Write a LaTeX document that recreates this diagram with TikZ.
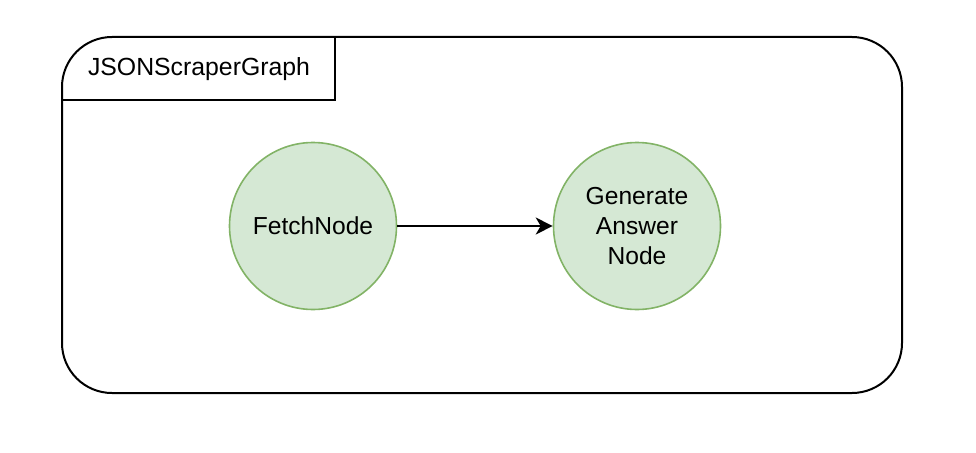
\documentclass[tikz,border=0pt]{standalone}
\usepackage{fontspec}
\setmainfont{Liberation Sans}
\usetikzlibrary{arrows.meta}
\begin{document}
\begin{tikzpicture}[x=1pt,y=-1pt,
  proc/.style={circle,draw=nodegreen,fill=nodefill,line width=1.6pt,minimum size=167pt,inner sep=0pt,align=center,font=\fontsize{24.6}{30}\selectfont},
  frame/.style={draw=black,line width=2pt,rounded corners=50pt},
  tabline/.style={draw=black,line width=1.5pt},
  conn/.style={draw=black,line width=1.6pt,-{Stealth[length=17pt,width=17pt,inset=5pt]}}]
\definecolor{nodegreen}{HTML}{82B366}
\definecolor{nodefill}{HTML}{D5E8D4}
\useasboundingbox (0,0) rectangle (976,452);
\draw[frame] (62,37) rectangle (902,393);
\draw[tabline] (335,37) -- (335,100) -- (62,100);
\node[font=\fontsize{24.8}{30}\selectfont] (title) at (199,69) {JSONScraperGraph};
\node[proc] (fetch) at (313,226) {FetchNode};
\node[proc] (gen) at (637,226) {Generate\\Answer\\Node};
\draw[conn] (fetch) -- (gen);
\end{tikzpicture}
\end{document}
